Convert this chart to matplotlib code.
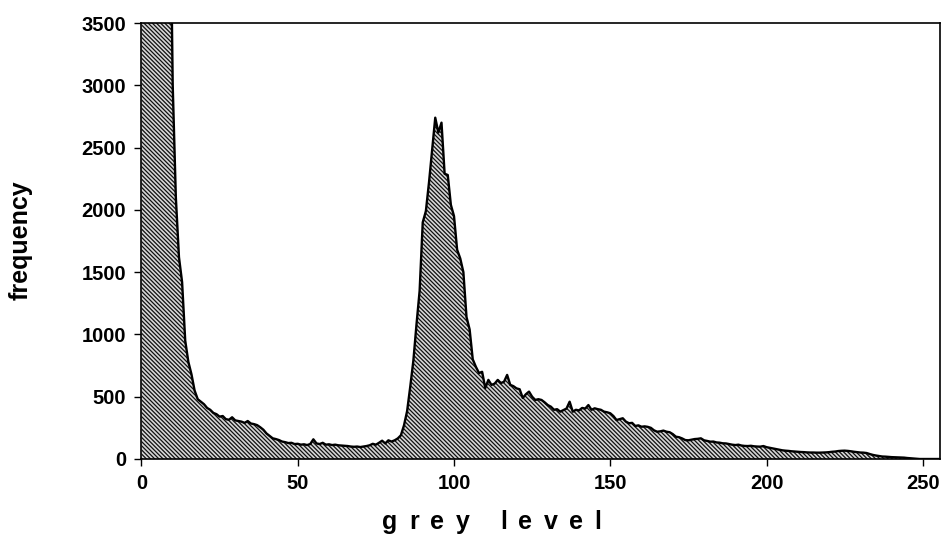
import matplotlib
matplotlib.use("Agg")
import matplotlib.pyplot as plt
from matplotlib.font_manager import FontProperties
import numpy as np

plt.rcParams['font.family'] = ['Liberation Sans', 'DejaVu Sans']
plt.rcParams['hatch.linewidth'] = 0.9

# grey level histogram (0..9 are off the top)
frequency = [
    20000, 15000, 12000, 10000, 9000, 8000, 7000, 6500, 6000, 5000,   # 0-9
    3000, 2100, 1620, 1420, 950, 780, 680, 550, 480, 460,             # 10-19
    440, 410, 395, 370, 360, 340, 345, 320, 315, 335,                 # 20-29
    310, 305, 300, 290, 305, 285, 280, 272, 255, 235,                 # 30-39
    205, 185, 166, 160, 152, 140, 135, 128, 130, 120,                 # 40-49
    122, 115, 118, 112, 120, 158, 125, 120, 130, 115,                 # 50-59
    118, 112, 115, 110, 108, 106, 104, 100, 98, 100,                  # 60-69
    96, 100, 104, 110, 122, 115, 130, 147, 125, 150,                  # 70-79
    140, 150, 165, 190, 270, 385, 580, 790, 1080, 1350,               # 80-89
    1900, 1990, 2220, 2480, 2740, 2620, 2700, 2290, 2280, 2040,       # 90-99
    1950, 1680, 1610, 1500, 1140, 1040, 800, 740, 690, 700,           # 100-109
    570, 635, 595, 605, 635, 610, 620, 675, 595, 585,                 # 110-119
    567, 560, 490, 520, 541, 500, 474, 480, 474, 455,                 # 120-129
    433, 420, 395, 400, 380, 393, 405, 460, 380, 395,                 # 130-139
    390, 410, 405, 433, 395, 407, 400, 395, 380, 375,                 # 140-149
    367, 345, 313, 320, 327, 300, 287, 290, 265, 270,                 # 150-159
    259, 262, 258, 250, 230, 219, 222, 228, 219, 215,                 # 160-169
    200, 179, 175, 165, 152, 150, 155, 160, 162, 166,                 # 170-179
    150, 145, 139, 140, 133, 131, 126, 125, 120, 115,                 # 180-189
    112, 115, 108, 105, 104, 106, 102, 100, 99, 104,                  # 190-199
    95, 90, 85, 80, 75, 70, 67, 65, 62, 60,                           # 200-209
    58, 56, 55, 53, 52, 52, 51, 51, 52, 53,                           # 210-219
    55, 58, 60, 64, 66, 67, 65, 62, 58, 55,                           # 220-229
    52, 51, 48, 40, 33, 28, 24, 20, 19, 17,                           # 230-239
    15, 14, 13, 12, 11, 8, 6, 4, 2, 0,                                # 240-249
    0, 0, 0, 0, 0, 0,                                                 # 250-255
]
grey_level = np.arange(len(frequency))

xticks = [0, 50, 100, 150, 200, 250]
yticks = [0, 500, 1000, 1500, 2000, 2500, 3000, 3500]
xlabel = 'grey level'
ylabel = 'frequency'

W, H = 945, 540
fig = plt.figure(figsize=(W / 100, H / 100), dpi=100)
ax = fig.add_axes([0.1497, 0.15, 0.8450, 0.8074])

ax.fill_between(grey_level, frequency, 0, facecolor='#d6d6d6',
                edgecolor='#111111', hatch='\\' * 8, linewidth=0)
ax.plot(grey_level, frequency, color='black', linewidth=1.7)

ax.set_xlim(0, 255.5)
ax.set_ylim(0, 3500)
ax.set_xticks(xticks)
ax.set_yticks(yticks)
ax.tick_params(direction='out', length=5, width=1, pad=6, labelsize=14.5)
for lab in ax.get_xticklabels() + ax.get_yticklabels():
    lab.set_fontweight('bold')

for sp in ax.spines.values():
    sp.set_linewidth(1.2)

prop = FontProperties(family='Liberation Sans', weight='bold', size=18)
fig.text(21 / W, 1 - 240 / H, ylabel, fontproperties=prop, rotation=90,
         ha='center', va='center')

# x label is letter-spaced: lay the characters out one by one
renderer = fig.canvas.get_renderer()
gap = 11.5  # extra px between letters
widths = [renderer.get_text_width_height_descent(c, prop, ismath=False)[0]
          for c in xlabel]
total = sum(widths) + gap * (len(xlabel) - 1)
x = 492 - total / 2
for c, w in zip(xlabel, widths):
    fig.text(x / W, 1 - 522 / H, c, fontproperties=prop,
             ha='left', va='center')
    x += w + gap

fig.savefig('out.png', dpi=100)
